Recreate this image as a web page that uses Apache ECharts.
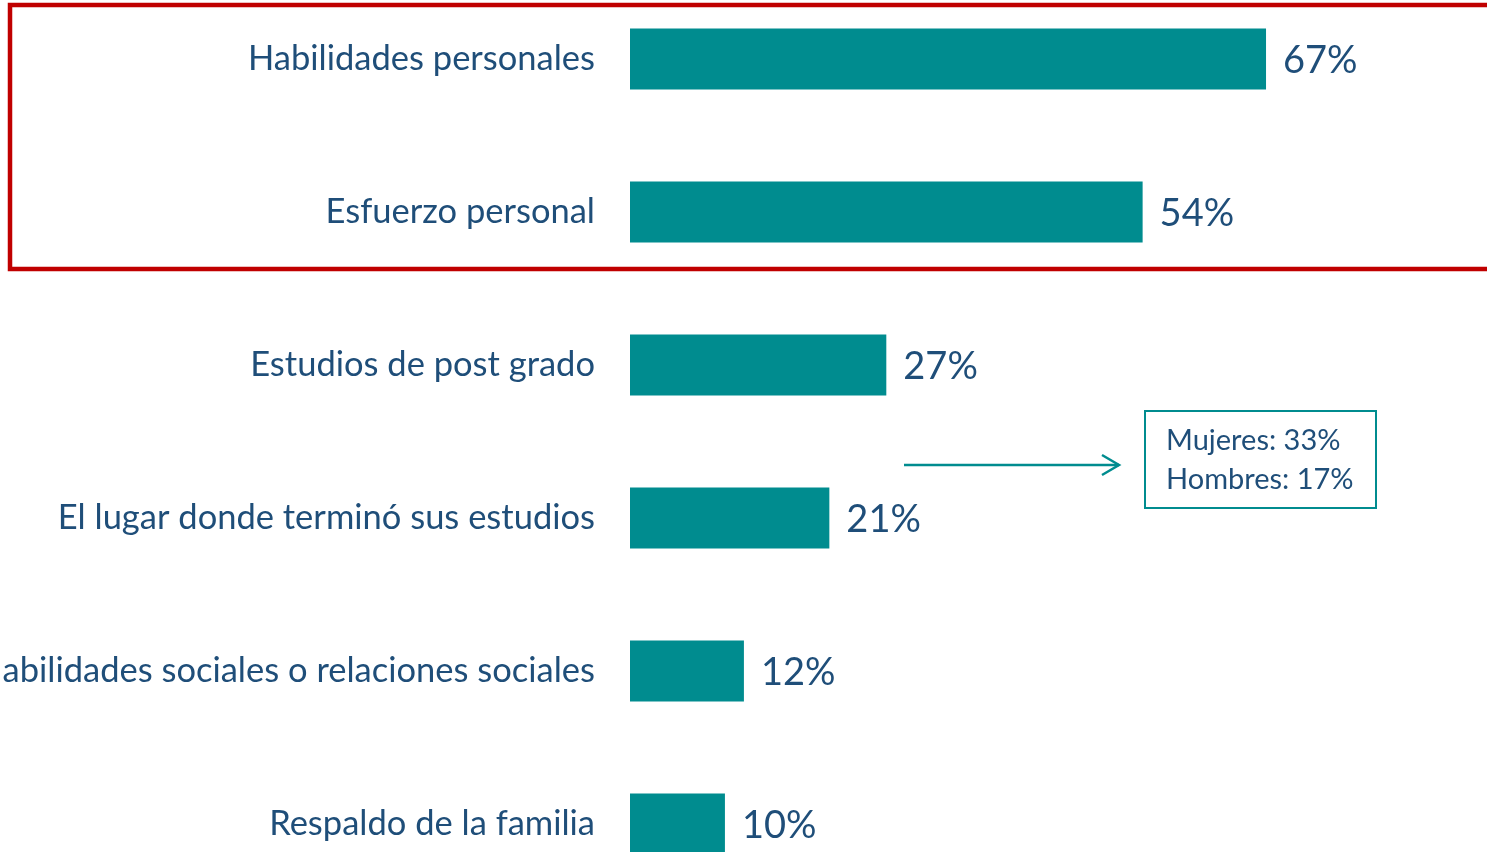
<!DOCTYPE html>
<html>
<head>
<meta charset="utf-8">
<script src="https://cdn.jsdelivr.net/npm/echarts@6/dist/echarts.min.js"></script>
<style>
  html, body { margin: 0; padding: 0; background: #fff; }
  #main { width: 1487px; height: 852px; }
</style>
</head>
<body>
<div id="main"></div>
<script>
var categories = [
  'Habilidades personales',
  'Esfuerzo personal',
  'Estudios de post grado',
  'El lugar donde terminó sus estudios',
  'Habilidades sociales o relaciones sociales',
  'Respaldo de la familia'
];
var values = [67, 54, 27, 21, 12, 10];
var noteLines = ['Mujeres: 33%', 'Hombres: 17%'];

var textColor = '#1F4E79';
var barColor = '#008C8F';
var fontFam = 'Lato, "Open Sans", sans-serif';

var chart = echarts.init(document.getElementById('main'));

var option = {
  backgroundColor: '#fff',
  animation: false,
  grid: {
    left: 630,
    top: -17.5,
    width: 949.3,
    height: 918,
    outerBoundsMode: 'none',
    containLabel: false
  },
  xAxis: {
    type: 'value',
    min: 0,
    max: 100,
    show: false
  },
  yAxis: {
    type: 'category',
    inverse: true,
    data: categories,
    axisLine: { show: false },
    axisTick: { show: false },
    axisLabel: {
      margin: 35,
      color: textColor,
      fontSize: 34.5,
      fontFamily: fontFam
    }
  },
  series: [{
    type: 'bar',
    data: values,
    barWidth: 61,
    itemStyle: { color: barColor },
    label: {
      show: true,
      position: 'right',
      distance: 17,
      formatter: '{c}%',
      color: textColor,
      fontSize: 38,
      fontFamily: fontFam,
      offset: [0, 2]
    }
  }],
  graphic: [
    {
      // red highlight frame
      type: 'rect',
      shape: { x: 10, y: 5, width: 1500, height: 264 },
      style: { fill: null, stroke: '#C00000', lineWidth: 4.5 },
      z: 100
    },
    {
      type: 'line',
      shape: { x1: 904, y1: 465, x2: 1119, y2: 465 },
      style: { stroke: barColor, lineWidth: 2.5 },
      z: 100
    },
    {
      type: 'polyline',
      shape: { points: [[1102, 455], [1119, 465], [1102, 475]] },
      style: { stroke: barColor, lineWidth: 2.5, fill: null },
      z: 100
    },
    {
      type: 'rect',
      shape: { x: 1145, y: 411, width: 231, height: 97 },
      style: { fill: '#fff', stroke: barColor, lineWidth: 2 },
      z: 100
    },
    {
      type: 'text',
      left: 1166,
      top: 421,
      style: {
        text: noteLines.join('\n'),
        fill: textColor,
        fontSize: 29,
        lineHeight: 39,
        fontFamily: fontFam
      },
      z: 101
    }
  ]
};

chart.setOption(option);
</script>
</body>
</html>
